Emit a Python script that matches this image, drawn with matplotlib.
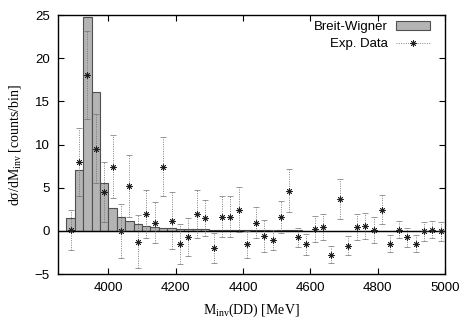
import numpy as np
import matplotlib.pyplot as plt
from matplotlib.patches import Patch
from matplotlib.lines import Line2D

# Breit-Wigner histogram, 25 MeV bins starting at 3875 MeV
bin_left = 3875.0
bin_width = 25.0
bw_counts = [1.5, 7.1, 24.8, 16.1, 5.6, 2.7, 1.6, 1.1, 0.78, 0.55,
             0.42, 0.32, 0.3, 0.22, 0.2, 0.18, 0.16, 0.14, 0.12, 0.11,
             0.1, 0.09, 0.08, 0.07, 0.07, 0.06, 0.05, 0.05, 0.04, 0.04,
             0.04, 0.03, 0.03, 0.03, 0.03, 0.02, 0.02, 0.02, 0.02, 0.02,
             0.02, 0.01, 0.01, 0.01, 0.01]

# experimental data at bin centres
exp_y = [0.1, 7.95, 18.0, 9.5, 4.5, 7.45, 0.0, 5.15, -1.25, 1.95,
         0.95, 7.45, 1.15, -1.55, -0.75, 1.95, 1.5, -2.0, 1.65, 1.65,
         2.45, -1.55, 0.95, -0.6, -1.05, 1.6, 4.65, -0.75, -1.55, 0.2,
         0.45, -2.75, 3.65, -1.75, 0.4, 0.6, 0.15, 2.45, -1.5, 0.15,
         -0.75, -1.5, -0.05, 0.15, -0.05]
exp_err = [2.3, 3.95, 5.1, 4.0, 3.5, 3.7, 3.1, 3.6, 3.05, 2.75,
           2.4, 3.45, 3.3, 2.3, 2.2, 2.8, 2.05, 1.75, 2.4, 2.4,
           2.6, 1.55, 1.8, 1.9, 1.2, 1.85, 2.5, 1.1, 1.2, 1.5,
           1.5, 1.0, 2.3, 1.1, 1.5, 1.5, 1.5, 1.7, 1.0, 1.0,
           1.1, 1.0, 1.1, 1.0, 1.1]

x_ticks = [4000, 4200, 4400, 4600, 4800, 5000]
y_ticks = [-5, 0, 5, 10, 15, 20, 25]

plt.rcParams['font.family'] = 'Liberation Sans'
plt.rcParams['mathtext.fontset'] = 'custom'
plt.rcParams['mathtext.rm'] = 'Liberation Serif'
plt.rcParams['mathtext.it'] = 'Liberation Serif:italic'

edges = bin_left + bin_width * np.arange(len(bw_counts))
centres = edges + bin_width / 2

fig = plt.figure(figsize=(4.67, 3.27), dpi=100)
ax = fig.add_axes([0.124, 0.162, 0.829, 0.792])

ax.bar(edges, bw_counts, width=bin_width, align='edge', color='#b4b4b4',
       edgecolor='#505050', linewidth=0.8, zorder=2)
ax.axhline(0, color='black', lw=1.0, zorder=3)

dots = (0, (1.2, 1.6))
star = (8, 2, 0)
eb = ax.errorbar(centres, exp_y, yerr=exp_err, fmt='none', ecolor='#707070',
                 elinewidth=0.6, capsize=2, capthick=0.5, zorder=4)
eb[2][0].set_linestyle(dots)
ax.plot(centres, exp_y, ls='none', marker=star, ms=4.4, mew=0.6,
        color='#202020', zorder=5)

ax.set_xlim(3850, 5000)
ax.set_ylim(-5, 25)
ax.set_xticks(x_ticks)
ax.set_yticks(y_ticks)
ax.tick_params(direction='in', top=True, right=True, length=4, width=0.8,
               labelsize=9.5, pad=6)
for s in ax.spines.values():
    s.set_linewidth(1.0)

ax.set_xlabel(r'M$_{\rm inv}$(DD) [MeV]', family='Liberation Serif', fontsize=10, labelpad=5)
ax.set_ylabel('dσ/dM$_{\\rm inv}$ [counts/bin]', family='Liberation Serif',
              fontsize=10, labelpad=8)

handles = [Patch(facecolor='#b4b4b4', edgecolor='#505050', lw=0.8),
           Line2D([], [], color='#707070', ls=dots, lw=0.6,
                  marker=star, ms=4.4, mfc='#202020', mec='#202020', mew=0.6)]
ax.legend(handles, ['Breit-Wigner', 'Exp. Data'], loc='upper right',
          bbox_to_anchor=(0.962, 0.978), borderaxespad=0, borderpad=0,
          frameon=False, markerfirst=False, fontsize=9.5, handlelength=2.6,
          handletextpad=0.6, labelspacing=0.4)

plt.savefig('out.png', dpi=100)
